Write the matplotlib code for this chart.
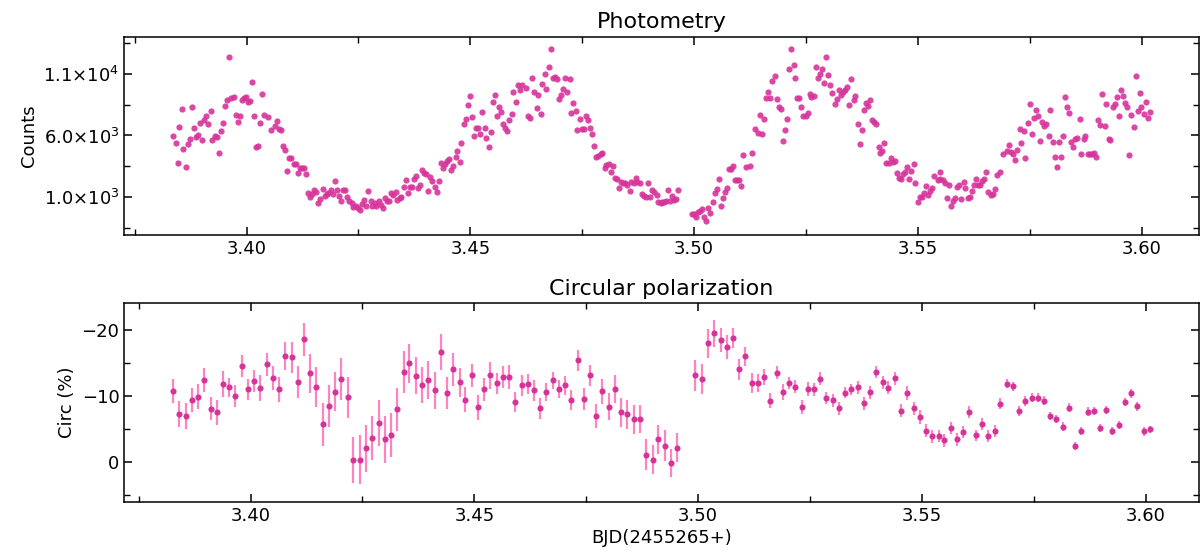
import matplotlib
matplotlib.use("Agg")
import matplotlib.pyplot as plt
import numpy as np
from matplotlib.ticker import MultipleLocator, FixedLocator, FuncFormatter, FormatStrFormatter

# photometry: time (BJD - 2455265) and counts
bjd_phot = [
    3.3836, 3.3842, 3.3846, 3.3850, 3.3855, 3.3859, 3.3865, 3.3869, 3.3874, 3.3878,
    3.3882, 3.3887, 3.3891, 3.3897, 3.3901, 3.3906, 3.3910, 3.3915, 3.3920, 3.3924,
    3.3929, 3.3934, 3.3938, 3.3943, 3.3947, 3.3953, 3.3957, 3.3961, 3.3966, 3.3971,
    3.3976, 3.3980, 3.3985, 3.3989, 3.3994, 3.3999, 3.4003, 3.4008, 3.4012, 3.4017,
    3.4022, 3.4026, 3.4031, 3.4035, 3.4040, 3.4049, 3.4054, 3.4063, 3.4068, 3.4072,
    3.4077, 3.4082, 3.4087, 3.4091, 3.4096, 3.4100, 3.4105, 3.4110, 3.4114, 3.4119,
    3.4123, 3.4128, 3.4133, 3.4137, 3.4142, 3.4147, 3.4151, 3.4156, 3.4160, 3.4165,
    3.4170, 3.4175, 3.4179, 3.4183, 3.4188, 3.4193, 3.4198, 3.4202, 3.4207, 3.4212,
    3.4216, 3.4221, 3.4225, 3.4230, 3.4235, 3.4239, 3.4244, 3.4248, 3.4254, 3.4258,
    3.4262, 3.4267, 3.4272, 3.4277, 3.4281, 3.4286, 3.4290, 3.4295, 3.4300, 3.4304,
    3.4309, 3.4314, 3.4318, 3.4323, 3.4327,
    3.4333, 3.4337, 3.4342, 3.4346, 3.4351, 3.4356, 3.4360, 3.4365, 3.4369, 3.4374,
    3.4378, 3.4383, 3.4388, 3.4392, 3.4397, 3.4401, 3.4406, 3.4411, 3.4415, 3.4420,
    3.4425, 3.4429, 3.4434, 3.4438, 3.4443, 3.4448, 3.4453, 3.4457, 3.4461, 3.4467,
    3.4471, 3.4476, 3.4480, 3.4485, 3.4490, 3.4494, 3.4499, 3.4504, 3.4508, 3.4513,
    3.4517, 3.4522, 3.4527, 3.4532, 3.4536, 3.4541, 3.4546, 3.4550, 3.4555, 3.4559,
    3.4564, 3.4569, 3.4573, 3.4578, 3.4583, 3.4587, 3.4592, 3.4596, 3.4602, 3.4606,
    3.4611, 3.4615, 3.4624, 3.4628, 3.4634, 3.4638, 3.4643, 3.4648, 3.4652, 3.4657,
    3.4661, 3.4666, 3.4670, 3.4675, 3.4680, 3.4684, 3.4689, 3.4693, 3.4698, 3.4702,
    3.4707, 3.4712, 3.4716, 3.4722, 3.4726, 3.4730, 3.4735, 3.4739, 3.4745, 3.4749,
    3.4754, 3.4758, 3.4763, 3.4768, 3.4772, 3.4777, 3.4781, 3.4786, 3.4791, 3.4795,
    3.4800, 3.4804, 3.4809, 3.4814, 3.4818, 3.4823, 3.4827, 3.4833, 3.4837, 3.4842,
    3.4846, 3.4850, 3.4856, 3.4860, 3.4865, 3.4869, 3.4873, 3.4879, 3.4883, 3.4888,
    3.4892, 3.4897, 3.4902, 3.4906, 3.4911, 3.4916, 3.4920, 3.4925, 3.4929,
    3.4933, 3.4937, 3.4941, 3.4946, 3.4950, 3.4954, 3.4959, 3.4963,
    3.4995, 3.5000, 3.5004, 3.5008, 3.5013, 3.5017, 3.5022, 3.5027, 3.5032, 3.5036,
    3.5041, 3.5046, 3.5050, 3.5055, 3.5059, 3.5064, 3.5069, 3.5073, 3.5078, 3.5082,
    3.5087, 3.5092, 3.5096, 3.5101, 3.5105, 3.5110, 3.5115, 3.5124, 3.5129, 3.5137,
    3.5143, 3.5147, 3.5151, 3.5157, 3.5161, 3.5166, 3.5170, 3.5175, 3.5180, 3.5184,
    3.5189, 3.5193, 3.5198, 3.5203, 3.5207, 3.5212, 3.5217, 3.5222, 3.5226, 3.5230,
    3.5235, 3.5239, 3.5244, 3.5249, 3.5254, 3.5258, 3.5262, 3.5267, 3.5272, 3.5277,
    3.5281, 3.5286, 3.5291, 3.5295, 3.5300, 3.5304, 3.5309, 3.5314, 3.5318, 3.5323,
    3.5327, 3.5333, 3.5337, 3.5342, 3.5346, 3.5351, 3.5356, 3.5360, 3.5365, 3.5370,
    3.5374, 3.5379, 3.5383, 3.5388, 3.5393, 3.5397, 3.5402, 3.5406, 3.5412, 3.5416,
    3.5420, 3.5425, 3.5429, 3.5435, 3.5439, 3.5444, 3.5448, 3.5453, 3.5458, 3.5462,
    3.5467, 3.5471, 3.5476, 3.5481, 3.5485, 3.5490, 3.5494, 3.5499, 3.5504, 3.5508,
    3.5513, 3.5517, 3.5523, 3.5527, 3.5531, 3.5536,
    3.5544, 3.5549, 3.5550, 3.5556, 3.5560, 3.5564, 3.5569, 3.5574, 3.5579, 3.5583,
    3.5588, 3.5592, 3.5597, 3.5602, 3.5606, 3.5611, 3.5616, 3.5620, 3.5625, 3.5629,
    3.5634, 3.5639, 3.5643, 3.5648, 3.5652, 3.5657, 3.5662, 3.5667, 3.5671, 3.5676,
    3.5684, 3.5690, 3.5699, 3.5704, 3.5708, 3.5713, 3.5717, 3.5722, 3.5727, 3.5731,
    3.5736, 3.5740, 3.5746, 3.5750, 3.5754, 3.5759, 3.5763, 3.5769, 3.5773, 3.5778,
    3.5782, 3.5787, 3.5792, 3.5796, 3.5801, 3.5805, 3.5810, 3.5815, 3.5819, 3.5824,
    3.5828, 3.5833, 3.5838, 3.5842, 3.5847, 3.5851, 3.5856, 3.5861, 3.5865, 3.5870,
    3.5874, 3.5880, 3.5884, 3.5889, 3.5893, 3.5898, 3.5903, 3.5907, 3.5912, 3.5917,
    3.5921, 3.5926, 3.5930, 3.5935, 3.5940, 3.5944, 3.5949, 3.5953, 3.5959, 3.5963,
    3.5967, 3.5972, 3.5976, 3.5982, 3.5986, 3.5991, 3.5995, 3.5999, 3.6005, 3.6009,
    3.6014, 3.6018,
]
counts = [
    5960, 5418, 3792, 6664, 8155, 4903, 3439, 5309, 5743, 8317,
    6583, 5878, 6041, 7017, 5634, 7260, 7586, 6935, 8019, 5662,
    5933, 5878, 4605, 6339, 7017, 8399, 8859, 12409, 9022, 9130,
    7667, 7125, 7586, 8886, 9022, 9157, 8751, 8832, 10350, 7586,
    5065, 5174, 7017, 9347, 7667, 7504, 6420, 6746, 7206, 6502,
    6447, 5174, 4794, 3141, 4144, 4144, 3656, 3656, 2924, 3385,
    3331, 3331, 2843, 1298, 1027, 1217, 1569, 1434, 513, 838,
    1651, 1055, 1217, 1353, 1569, 1217, 2301, 1569, 1082, 702,
    1569, 1569, 1027, 702, 540, 187, 296, 133, -84, 404,
    756, 296, 1515, 675, 269, 485, 296, 675, 350, 79,
    946, 702, 675, 1298, 1163,
    1434, 784, 946, 1000, 1840, 2382, 1298, 1840, 1840, 2437,
    2708, 1759, 1976, 3195, 2979, 2843, 1488, 2599, 2301, 1840,
    1407, 2274, 3765, 3331, 3656, 3927, 4090, 3195, 3548, 4225,
    4767, 3819, 5418, 6935, 7369, 8480, 9185, 7477, 5987, 6637,
    6637, 6095, 7884, 6637, 5824, 5092, 6312, 8724, 9266, 7586,
    8290, 7938, 6908, 6637, 6393, 7288, 7775, 9537, 8697, 10106,
    9672, 10106, 9835, 7586, 7450, 10648, 9564, 8263, 9293, 7775,
    10187, 10973, 9808, 11542, 13006, 10702, 10783, 10567, 8995, 9266,
    9781, 10702, 9564, 10594, 7802, 8670, 7965, 6447, 7315, 6502,
    6502, 7586, 7260, 6583, 6149, 5147, 4225, 4361, 4496, 4605,
    3385, 3602, 3683, 3060, 3548, 2518, 2464, 1759, 2247, 2166,
    2166, 1976, 1515, 2247, 2166, 2518, 2193, 2166, 1217, 1109,
    1027, 2166, 973, 1542, 1380, 1163, 567, 540, 621,
    621, 675, 1542, 702, 1109, 756, 838, 1542,
    -382, -355, -599, -219, -138, 52, -599, -951, 79, -273,
    621, 1298, 1651, 2491, 242, 892, 1380, 1732, 3250, 3277,
    3521, 2410, 2410, 2410, 1868, 4442, 3439, 3521, 4550, 6529,
    6204, 7667, 6122, 7342, 9076, 9510, 9022, 10431, 10865, 8968,
    8290, 8155, 5580, 6420, 7369, 11407, 13033, 11732, 10675, 9022,
    9076, 8317, 7586, 7559, 7830, 9347, 9130, 9212, 11596, 10648,
    10973, 11380, 10269, 12409, 10892, 10106, 9428, 8534, 8968, 9727,
    9293, 9510, 9699, 9916, 8507, 10594, 8914, 9212, 6965, 5336,
    6475, 8101, 8670, 8399, 8859, 7288, 7125, 6908, 5038, 4550,
    4740, 5418, 3792, 3737, 4198, 3873, 3927, 2924, 2572, 2464,
    2897, 3006, 3412, 2437, 3114, 3683, 2166, 621, 973, 973,
    1298, 1895, 1163, 1515, 1705, 2708,
    2382, 2437, 3033, 2382, 2111, 892, 1949, 269, 702, 946,
    1840, 1949, 811, 2247, 1732, 892, 1027, 1488, 2003, 2491,
    1976, 1976, 2301, 2491, 3033, 1407, 1136, 1271, 1651, 2789,
    3033, 4523, 4740, 5201, 4632, 4469, 4008, 4821, 6502, 5391,
    6339, 4144, 6989, 8534, 6095, 7450, 8073, 7613, 5526, 7071,
    6773, 6908, 5960, 8073, 5499, 4225, 3466, 5499, 4225, 5987,
    9103, 8344, 7830, 5445, 5092, 5743, 5824, 7369, 4469, 5689,
    5933, 4469, 4523, 4523, 4550, 4225, 7233, 6854, 9401, 6746,
    8561, 5689, 5607, 8344, 8534, 9157, 7586, 9727, 9239, 8615,
    8317, 4415, 7667, 6718, 10865, 8019, 9428, 8344, 7721, 8697,
    7396, 7884,
]

# circular polarization (%) with errors
bjd_pol = [
    3.3827, 3.3841, 3.3856, 3.3869, 3.3883, 3.3897, 3.3911, 3.3925, 3.3939, 3.3952,
    3.3966, 3.3980, 3.3994, 3.4008, 3.4022, 3.4036, 3.4050, 3.4063, 3.4078, 3.4092,
    3.4105, 3.4119, 3.4133, 3.4147, 3.4161, 3.4175, 3.4188, 3.4203, 3.4217, 3.4230,
    3.4244, 3.4259, 3.4272, 3.4286, 3.4300, 3.4314, 3.4328, 3.4342, 3.4355, 3.4369,
    3.4384, 3.4397, 3.4411, 3.4425, 3.4439, 3.4453, 3.4467, 3.4480, 3.4495, 3.4509,
    3.4522, 3.4536, 3.4550, 3.4564, 3.4577, 3.4591, 3.4606, 3.4619, 3.4633, 3.4647,
    3.4661, 3.4675, 3.4689, 3.4703, 3.4717, 3.4731, 3.4745, 3.4758, 3.4772, 3.4786,
    3.4800, 3.4814, 3.4828, 3.4842, 3.4856, 3.4869, 3.4883, 3.4898, 3.4911, 3.4925,
    3.4939, 3.4953, 3.4994, 3.5009, 3.5022, 3.5036, 3.5050, 3.5064, 3.5078, 3.5091,
    3.5105, 3.5120, 3.5134, 3.5147, 3.5161, 3.5175, 3.5189, 3.5203, 3.5217, 3.5231,
    3.5245, 3.5259, 3.5272, 3.5286, 3.5301, 3.5314, 3.5328, 3.5341, 3.5356, 3.5370,
    3.5383, 3.5397, 3.5412, 3.5425, 3.5439, 3.5453, 3.5467, 3.5481, 3.5495, 3.5508,
    3.5522, 3.5537, 3.5550, 3.5564, 3.5578, 3.5592, 3.5606, 3.5620, 3.5633, 3.5648,
    3.5662, 3.5675, 3.5689, 3.5704, 3.5717, 3.5731, 3.5745, 3.5759, 3.5773, 3.5787,
    3.5800, 3.5815, 3.5829, 3.5842, 3.5856, 3.5870, 3.5884, 3.5898, 3.5912, 3.5925,
    3.5940, 3.5954, 3.5967, 3.5981, 3.5996, 3.6009,
]
circ = [
    -10.76, -7.27, -6.92, -9.44, -9.90, -12.37, -8.08, -7.53, -11.87, -11.31,
    -10.00, -14.55, -11.01, -12.27, -11.26, -14.80, -12.68, -11.01, -16.06, -15.91,
    -12.12, -18.59, -13.43, -11.36, -5.76, -8.48, -10.66, -12.58, -9.80, -0.35,
    -0.35, -2.07, -3.64, -5.91, -3.43, -4.09, -7.98, -13.64, -14.95, -13.08,
    -11.67, -12.42, -10.86, -16.62, -10.40, -14.04, -12.07, -9.44, -13.13, -8.28,
    -11.01, -13.13, -11.92, -12.88, -12.93, -9.09, -11.62, -11.82, -10.86, -8.18,
    -10.61, -12.37, -11.06, -11.62, -9.44, -15.40, -9.60, -13.13, -6.97, -10.71,
    -8.38, -11.01, -7.53, -7.22, -6.46, -6.52, -1.11, -0.35, -3.43, -2.47,
    0.15, -2.17, -13.13, -12.53, -17.98, -19.49, -18.48, -17.37, -18.79, -14.04,
    -16.01, -11.97, -11.97, -12.93, -9.29, -13.54, -10.61, -11.97, -11.41, -8.38,
    -11.06, -11.06, -12.63, -9.75, -9.34, -8.13, -10.51, -11.01, -11.31, -8.94,
    -10.56, -13.64, -12.07, -11.26, -12.68, -7.78, -10.45, -8.18, -6.82, -4.75,
    -3.94, -3.94, -3.28, -5.15, -3.43, -4.55, -7.53, -4.04, -5.71, -3.94,
    -4.70, -8.84, -11.87, -11.52, -7.73, -9.29, -9.75, -9.75, -9.29, -6.97,
    -6.52, -5.35, -8.23, -2.47, -4.75, -7.63, -7.68, -5.15, -7.88, -4.75,
    -5.61, -9.09, -10.40, -8.43, -4.65, -4.95,
]
circ_err = [
    1.84, 1.99, 1.97, 1.82, 1.87, 1.82, 1.72, 1.94, 1.94, 1.49,
    1.64, 1.69, 1.59, 1.62, 1.97, 1.69, 1.82, 1.84, 2.07, 2.35,
    2.47, 2.47, 2.93, 3.06, 3.26, 3.18, 2.98, 3.21, 3.08, 3.48,
    3.71, 3.51, 3.38, 3.48, 3.56, 3.31, 3.26, 3.13, 2.98, 2.80,
    2.78, 2.83, 2.80, 2.75, 2.42, 2.45, 2.25, 1.89, 1.69, 1.89,
    1.79, 1.99, 1.62, 1.72, 1.82, 1.57, 1.57, 1.57, 1.57, 1.59,
    1.41, 1.31, 1.41, 1.41, 1.52, 1.59, 1.69, 1.62, 1.82, 1.92,
    2.07, 2.12, 2.17, 2.20, 2.17, 2.15, 2.32, 2.22, 2.25, 2.35,
    2.15, 2.17, 2.32, 2.27, 2.22, 1.99, 1.87, 1.82, 1.57, 1.59,
    1.46, 1.52, 1.36, 1.24, 1.11, 1.01, 1.16, 0.96, 0.98, 1.04,
    1.06, 0.98, 0.98, 0.91, 0.93, 0.98, 0.83, 0.83, 0.96, 0.98,
    0.96, 0.93, 0.96, 0.96, 1.01, 1.01, 1.04, 0.98, 1.04, 0.98,
    0.98, 0.96, 0.96, 0.93, 0.93, 0.88, 0.93, 0.88, 0.91, 0.86,
    0.86, 0.86, 0.66, 0.68, 0.76, 0.73, 0.66, 0.66, 0.66, 0.63,
    0.63, 0.66, 0.66, 0.63, 0.63, 0.66, 0.61, 0.63, 0.61, 0.63,
    0.63, 0.63, 0.63, 0.63, 0.63, 0.58,
]

dot_color = "#d6339a"
bar_color = "#ff82c1"


def sci_label(v, pos):
    exp = int(np.floor(np.log10(abs(v))))
    return r"$%.1f{\times}10^{%d}$" % (v / 10**exp, exp)


def style_axis(ax):
    ax.tick_params(which="both", direction="in", top=True, right=True, labelsize=13)
    ax.tick_params(which="major", length=6, width=1.1)
    ax.tick_params(which="minor", length=4, width=1.0)
    ax.xaxis.set_major_locator(MultipleLocator(0.05))
    ax.xaxis.set_minor_locator(MultipleLocator(0.025))
    ax.xaxis.set_major_formatter(FormatStrFormatter("%.2f"))
    for s in ax.spines.values():
        s.set_linewidth(1.1)


fig = plt.figure(figsize=(12.04, 5.57), dpi=100)
ax1 = fig.add_axes([0.1032, 0.5781, 0.8924, 0.3560])
ax2 = fig.add_axes([0.1032, 0.0993, 0.8924, 0.3562])

# top panel
ax1.scatter(bjd_phot, counts, s=20, color=dot_color, alpha=0.9, linewidths=0)
ax1.set_ylim(-2090, 14030)
ax1.yaxis.set_major_locator(FixedLocator([1000, 6000, 11000]))
ax1.yaxis.set_minor_locator(FixedLocator([-1500, 3500, 8500, 13500]))
ax1.yaxis.set_major_formatter(FuncFormatter(sci_label))
ax1.set_ylabel("Counts", fontsize=13)
ax1.set_title("Photometry", fontsize=16)
style_axis(ax1)

# bottom panel
ax2.errorbar(bjd_pol, circ, yerr=circ_err, fmt="o", ms=4.4, color=dot_color,
             ecolor=bar_color, elinewidth=1.6, capsize=0, mew=0)
ax2.set_ylim(6.0, -24.05)
ax2.yaxis.set_major_locator(MultipleLocator(10))
ax2.yaxis.set_minor_locator(MultipleLocator(5))
ax2.set_ylabel("Circ (%)", fontsize=13)
ax2.set_xlabel("BJD(2455265+)", fontsize=13, labelpad=3)
ax2.set_title("Circular polarization", fontsize=16)
style_axis(ax2)

fig.savefig("out.png", dpi=100)
